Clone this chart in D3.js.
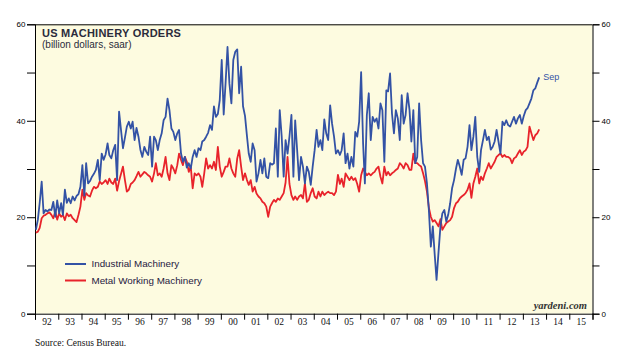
<!DOCTYPE html>
<html><head><meta charset="utf-8">
<script src="https://cdn.jsdelivr.net/npm/d3@7"></script>
<style>body{margin:0;background:#fff}svg{display:block}</style>
</head><body>
<svg id="chart" width="634" height="360"></svg>
<script>
// ---- data (monthly, Jan 1992 .. Sep 2013, billion dollars saar) ----
const startYear = 1992;
const industrial = [
17.4,19.5,23.0,27.4,20.8,21.5,21.2,21.6,21.5,23.2,20.1,23.5,
20.8,22.9,20.5,25.7,23.0,23.9,22.9,24.3,23.5,24.4,24.8,26.3,
30.8,24.5,31.2,27.0,27.5,28.4,29.0,29.8,31.9,27.7,33.2,31.9,
33.0,35.3,32.9,32.2,33.9,35.0,27.7,41.9,38.0,34.3,36.5,38.8,
39.8,38.4,39.8,36.0,38.5,36.7,34.0,32.5,34.6,33.6,32.9,36.7,
30.5,36.7,36.0,33.9,36.0,37.4,40.1,40.8,44.6,42.2,38.4,37.7,
36.0,37.4,38.1,33.2,31.5,32.5,30.3,31.2,30.1,32.5,33.9,32.5,
34.3,33.9,35.7,36.0,36.7,37.5,39.1,38.1,43.0,40.8,41.4,44.3,
52.6,41.3,47.7,55.3,47.7,43.6,52.6,54.3,54.8,45.7,51.2,43.0,
41.0,36.8,33.2,31.5,35.3,33.9,27.4,29.1,31.9,29.1,32.2,28.4,
28.1,31.2,30.9,31.2,38.4,28.4,42.2,36.7,28.4,36.0,33.2,36.7,
41.2,28.4,40.1,33.9,27.7,32.5,30.5,27.0,30.5,29.4,26.7,30.5,
33.9,38.1,34.6,36.0,33.9,40.3,37.4,36.0,43.2,39.4,36.7,33.2,
33.9,32.9,33.9,37.4,31.2,33.2,30.1,32.5,30.5,37.7,36.7,39.8,
50.1,35.3,27.0,41.2,45.7,36.0,40.8,39.8,40.5,38.4,43.6,42.2,
31.5,46.3,46.1,49.8,41.5,37.4,42.2,40.5,36.0,45.3,39.4,41.2,
45.7,42.2,35.7,42.2,31.2,32.5,43.6,36.0,31.2,30.5,27.0,21.5,
13.9,18.1,12.6,7.0,12.6,18.1,20.8,21.5,19.1,20.5,22.9,26.0,
27.7,30.1,31.9,30.5,28.8,31.9,32.2,34.6,39.1,33.9,36.7,40.8,
32.5,29.4,33.9,36.0,38.1,36.0,36.7,34.0,34.6,35.7,38.1,35.7,
33.2,39.8,39.1,40.1,39.1,38.8,39.8,40.8,39.4,40.5,41.2,39.4,
41.0,42.2,42.6,43.6,44.6,46.3,46.7,47.9,49.0
];
const metalWorking = [
16.8,17.0,17.8,19.8,20.3,20.5,20.8,21.0,20.5,19.8,21.2,19.5,
20.8,20.1,20.5,19.4,20.8,20.2,20.5,19.8,19.4,19.0,20.5,22.2,
25.7,23.6,25.0,24.5,24.3,25.5,26.3,26.0,26.3,27.4,26.9,27.2,
27.7,26.9,28.0,27.2,26.9,28.0,25.5,27.5,29.0,30.5,27.7,25.3,
25.7,26.9,27.2,27.7,28.5,29.4,28.4,28.9,29.4,29.1,28.7,28.4,
27.4,29.1,31.2,28.7,29.1,28.4,30.1,32.5,29.1,27.7,30.8,30.1,
29.1,30.8,33.2,31.9,30.8,32.5,31.5,29.4,30.5,26.0,29.1,28.7,
29.1,28.4,26.3,29.1,32.2,30.1,30.8,30.1,31.5,29.8,34.6,30.5,
28.4,29.4,30.5,30.5,32.2,30.1,29.1,28.4,32.2,33.9,30.5,27.7,
29.1,27.7,26.7,27.7,25.3,26.3,24.9,24.3,23.9,23.2,22.9,22.2,
20.1,22.2,22.9,23.6,23.2,23.9,23.6,24.3,25.0,27.2,32.5,26.9,
24.6,23.6,24.3,23.6,24.3,24.6,23.9,27.0,23.2,23.6,25.0,26.0,
24.3,23.9,25.3,24.3,25.3,24.6,25.0,25.3,25.0,25.0,24.6,25.3,
28.8,26.9,28.0,26.3,29.1,28.4,27.7,28.4,27.7,28.1,26.9,25.3,
28.7,30.1,29.4,28.7,29.1,28.7,29.1,29.4,30.1,30.5,28.4,27.0,
30.5,28.7,29.4,28.7,29.1,29.4,29.8,30.1,31.2,30.8,30.1,31.2,
30.8,29.8,29.8,33.2,31.2,31.2,30.8,30.5,29.1,27.5,25.3,22.0,
20.1,19.1,19.4,18.8,18.1,19.6,17.4,18.1,18.8,19.1,19.4,20.1,
21.9,22.9,23.2,23.9,24.3,24.6,25.0,25.7,27.0,24.0,27.0,28.4,
30.1,27.0,28.4,27.7,29.1,30.1,31.2,30.1,30.8,31.5,32.5,32.9,
33.2,32.5,32.9,32.5,32.5,32.2,31.2,32.2,32.5,33.2,33.9,32.9,
33.6,33.9,34.6,38.8,37.4,36.0,37.0,37.4,38.2
];
const seriesNames = ["Industrial Machinery", "Metal Working Machinery"];
const seriesColors = ["#3352a5", "#e8232b"];
const yearTicks = d3.range(1992, 2017);
const yearLabels = d3.range(1992, 2016);
const yTicks = [0, 10, 20, 30, 40, 50, 60];
const yLabeled = [0, 20, 40, 60];
const lastLabel = "Sep";

// ---- layout ----
const svg = d3.select("#chart");
const L = 35, R = 592.5, T = 24.3, B = 313.7;
const dates = industrial.map((_, i) => new Date(startYear, i, 15));
const x = d3.scaleTime().domain([new Date(1992, 0, 1), new Date(2016, 0, 1)]).range([L, R]);
const y = d3.scaleLinear().domain([0, 60]).range([B, T]);

svg.append("rect").attr("x", L).attr("y", T).attr("width", R - L).attr("height", B - T)
  .attr("fill", "#fdfbe0");

// top frame
svg.append("line").attr("x1", L).attr("x2", R).attr("y1", T + 0.5).attr("y2", T + 0.5)
  .attr("stroke", "#000").attr("stroke-width", 1);

const sans = "'Liberation Sans', Arial, sans-serif";
const serif = "'Liberation Serif', 'Times New Roman', serif";
const fmtY = d => yLabeled.includes(d) ? d : "";

const gl = svg.append("g").attr("transform", `translate(${L},0)`)
  .call(d3.axisLeft(y).tickValues(yTicks).tickSize(8).tickPadding(1.5).tickFormat(fmtY));
const gr = svg.append("g").attr("transform", `translate(${R},0)`)
  .call(d3.axisRight(y).tickValues(yTicks).tickSize(7).tickPadding(2).tickFormat(fmtY));
[gl, gr].forEach(g => {
  g.selectAll("text").attr("font-family", sans).attr("font-size", 8).attr("fill", "#000");
  g.selectAll("line,path").attr("stroke", "#000");
});

const gb = svg.append("g").attr("transform", `translate(0,${B})`)
  .call(d3.axisBottom(x).tickValues(yearTicks.map(yr => new Date(yr, 0, 1))).tickSize(6).tickFormat(""));
gb.selectAll("line,path").attr("stroke", "#000");
const gb2 = svg.append("g").attr("transform", `translate(0,${B})`)
  .call(d3.axisBottom(x).tickValues(yearLabels.map(yr => new Date(yr, 6, 1))).tickSize(0).tickPadding(5)
    .tickFormat(d3.timeFormat("%y")));
gb2.select(".domain").remove();
gb2.selectAll("text").attr("font-family", serif).attr("font-size", 9.5).attr("fill", "#111");

// lines
const line = d3.line().x((d, i) => x(dates[i])).y(d => y(d)).curve(d3.curveLinear);
[metalWorking, industrial].forEach((s, k) => {
  svg.append("path").datum(s).attr("d", line).attr("fill", "none")
    .attr("stroke", k === 0 ? seriesColors[1] : seriesColors[0])
    .attr("stroke-width", 1.8).attr("stroke-linejoin", "round");
});

// last label
const li = industrial.length - 1;
svg.append("text").attr("x", x(dates[li]) + 4).attr("y", y(industrial[li]) + 3)
  .attr("font-family", sans).attr("font-size", 9).attr("fill", seriesColors[0]).text(lastLabel);

// title
svg.append("text").attr("x", 42).attr("y", 36.7).attr("font-family", sans).attr("font-weight", "bold")
  .attr("font-size", 11).attr("letter-spacing", 0.25).attr("fill", "#2b2b3b").text("US MACHINERY ORDERS");
svg.append("text").attr("x", 42).attr("y", 47.8).attr("font-family", sans)
  .attr("font-size", 10).attr("fill", "#2b2b3b").text("(billion dollars, saar)");

// legend
seriesNames.forEach((n, k) => {
  const ly = 264 + k * 16.5;
  svg.append("line").attr("x1", 65).attr("x2", 86).attr("y1", ly).attr("y2", ly)
    .attr("stroke", seriesColors[k]).attr("stroke-width", 2);
  svg.append("text").attr("x", 91.5).attr("y", ly + 3.3).attr("font-family", sans)
    .attr("font-size", 9.8).attr("fill", "#1f2040").text(n);
});

// credits
svg.append("text").attr("x", 587).attr("y", 308.5).attr("text-anchor", "end")
  .attr("font-family", serif).attr("font-style", "italic").attr("font-weight", "bold")
  .attr("font-size", 10.5).attr("fill", "#333").text("yardeni.com");
svg.append("text").attr("x", 35).attr("y", 345.5).attr("font-family", serif)
  .attr("font-size", 9.5).attr("fill", "#111").text("Source: Census Bureau.");
</script>
</body></html>
